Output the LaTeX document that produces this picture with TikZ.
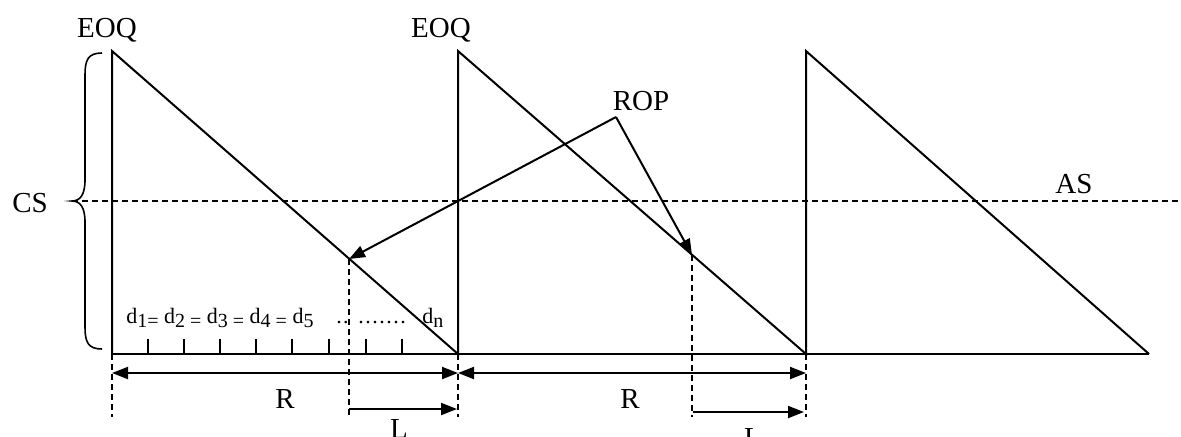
\documentclass[tikz,border=0pt]{standalone}
\usepackage{fontspec}
\setmainfont{Liberation Serif}
\usetikzlibrary{arrows.meta}
\newcommand\sbx[1]{\raisebox{-0.22em}{\fontsize{10}{10}\selectfont #1}}
\begin{document}
\begin{tikzpicture}[x=0.5pt,y=-0.5pt,
  solid line/.style={line width=1pt},
  dsh/.style={line width=0.9pt, dash pattern=on 3pt off 2pt},
  arr/.style={line width=1pt,-{Triangle[length=8pt,width=6pt]}},
  darr/.style={line width=1pt,{Triangle[length=8pt,width=6pt]}-{Triangle[length=8pt,width=6pt]}},
  lbl/.style={font=\fontsize{14.5}{17}\selectfont, inner sep=0pt, anchor=base},
  small/.style={font=\fontsize{11}{13}\selectfont, inner sep=0pt, anchor=base west}]
\useasboundingbox (0,0) rectangle (1181,436);

% vertices
\coordinate (t1) at (112,51);
\coordinate (b1) at (112,354);
\coordinate (t2) at (458,51);
\coordinate (b2) at (458,354);
\coordinate (t3) at (806,51);
\coordinate (b3) at (806,354);
\coordinate (e3) at (1149,354);
% reorder points
\coordinate (r1) at (349,259);
\coordinate (r2) at (692,255);
\coordinate (rop) at (616,117);
% lower ends of dashed lines
\coordinate (b1d) at (112,417);
\coordinate (b2d) at (458,417);
\coordinate (b3d) at (806,417);
\coordinate (r1d) at (349,417);
\coordinate (r2d) at (692,417);
% AS line
\coordinate (asl) at (72,201);
\coordinate (asr) at (1181,201);

% saw-tooth
\draw[solid line] (b1) -- (t1) -- (b2) -- (t2) -- (b3) -- (t3) -- (e3);
\draw[solid line] (b1) -- (e3);

% ticks
\foreach \x in {148,184,220,256,292,329,366,402}
  \draw[line width=0.8pt] (\x,339) -- (\x,354);

% dashed lines
\draw[dsh] (asl) -- (asr);
\draw[dsh] (b1) -- (b1d);
\draw[dsh] (b2) -- (b2d);
\draw[dsh] (b3) -- (b3d);
\draw[dsh] (r1) -- (r1d);
\draw[dsh] (r2) -- (r2d);

% brace
\draw[line width=0.8pt] (102,53) .. controls (88,53) and (85,60) .. (85,75) -- (85,180)
  .. controls (85,195) and (80,201) .. (asl)
  .. controls (80,201) and (85,207) .. (85,222) -- (85,327)
  .. controls (85,342) and (88,349) .. (102,349);

% ROP arrows
\draw[arr] (rop) -- (r1);
\draw[arr] (rop) -- (r2);

% R arrows
\coordinate (ra1) at (112,373);
\coordinate (ra2) at (458,373);
\coordinate (ra3) at (806,373);
\draw[darr] (ra1) -- (ra2);
\draw[darr] (ra2) -- (ra3);

% L arrows
\coordinate (la1) at (349,409);
\coordinate (la2) at (457,409);
\coordinate (lb1) at (693,412);
\coordinate (lb2) at (804,412);
\draw[arr] (la1) -- (la2);
\draw[arr] (lb1) -- (lb2);

% labels
\node[lbl] (eoq1) at (107,37) {EOQ};
\node[lbl] (eoq2) at (441,37) {EOQ};
\node[lbl] (cs) at (30,212) {CS};
\node[lbl] (roptxt) at (641,110) {ROP};
\node[lbl] (as) at (1074,193) {AS};
\node[lbl] (rt1) at (285,408) {R};
\node[lbl] (rt2) at (630,408) {R};
\node[lbl] (lt1) at (399,438) {L};
\node[lbl] (lt2) at (753,447) {L};

\node[small] (dl) at (126,323) {d\sbx{1=} d\sbx{2 =} d\sbx{3 =} d\sbx{4 =} d\sbx{5}};
\node[small] (dots1) at (336,323) {.\kern0.6pt.};
\node[small] (dots2) at (358,323) {.\kern0.75pt.\kern0.75pt.\kern0.75pt.\kern0.75pt.\kern0.75pt.\kern0.75pt.};
\node[small] (dn) at (422,323) {d\sbx{n}};
\end{tikzpicture}
\end{document}
